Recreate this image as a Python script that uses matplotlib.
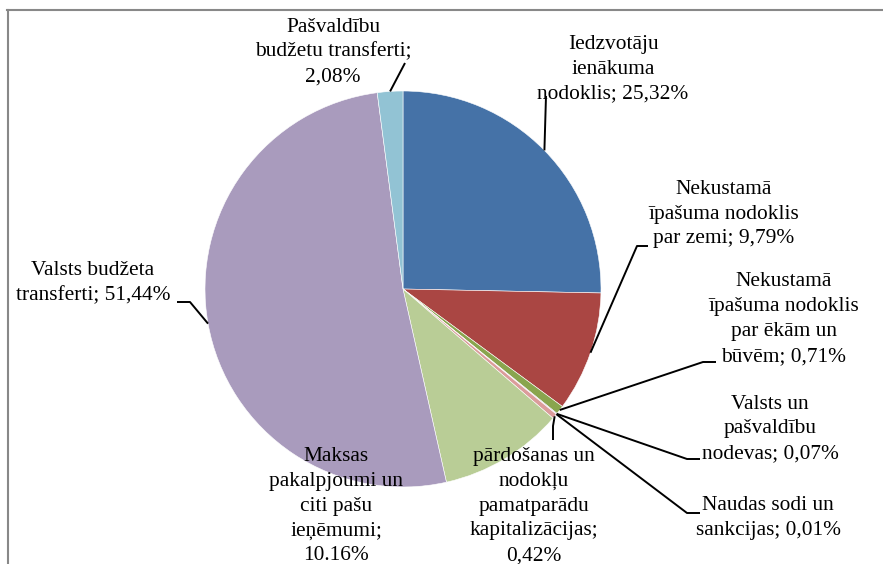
import matplotlib
matplotlib.use("Agg")
import matplotlib.pyplot as plt
import numpy as np
from matplotlib.lines import Line2D

# ---- data ----
categories = [
    "Iedzvotāju\nienākuma\nnodoklis",
    "Nekustamā\nīpašuma nodoklis\npar zemi",
    "Nekustamā\nīpašuma nodoklis\npar ēkām un\nbūvēm",
    "Valsts un\npašvaldību\nnodevas",
    "Naudas sodi un\nsankcijas",
    "pārdošanas un\nnodokļu\npamatparādu\nkapitalizācijas;\n",
    "Maksas\npakalpjoumi un\nciti pašu\nieņēmumi;\n",
    "Valsts budžeta\ntransferti",
    "Pašvaldību\nbudžetu transferti;\n",
]
values = [25.32, 9.79, 0.71, 0.07, 0.01, 0.42, 10.16, 51.44, 2.08]
decimal_sep = [",", ",", ",", ",", ",", ",", ".", ",", ","]
joiner = ["; ", "; ", "; ", "; ", "; ", "", "", "; ", ""]

colors = ["#4572A7", "#AA4643", "#89A54E", "#80699B", "#3D96AE",
          "#DB9C9B", "#B9CD96", "#A99BBD", "#92C3D4"]

# ---- layout (pixel coordinates, y from top) ----
W, H = 883, 564
center_px = (403, 289)
radius_px = 198
label_pos = [(613, 69), (724, 214), (784, 319), (770, 429), (768, 518),
             (534, 506), (336, 506), (93, 283), (333, 52)]
leaders = [
    [(546, 96)],
    [(637, 246), (648, 246)],
    [(703, 362), (716, 362)],
    [(687, 459), (700, 459)],
    [(687, 513), (700, 513)],
    [(553, 426), (553, 440)],
    None,
    [(190, 302), (177, 302)],
    [(405, 63)],
]

fig = plt.figure(figsize=(W / 100, H / 100), dpi=100)
ax = fig.add_axes([0, 0, 1, 1])

cx, cy = center_px[0], H - center_px[1]
wedges, _ = ax.pie(values, colors=colors, startangle=90, counterclock=False,
                   center=(cx, cy), radius=radius_px, frame=True,
                   wedgeprops=dict(edgecolor="white", linewidth=0.4))
ax.set_xlim(0, W)
ax.set_ylim(0, H)
ax.set_aspect("equal")
ax.axis("off")

font = dict(family=["Liberation Serif", "DejaVu Serif"], fontsize=15.4,
            color="black")

for i, (w, cat, v) in enumerate(zip(wedges, categories, values)):
    pct = f"{v:.2f}".replace(".", decimal_sep[i]) + "%"
    text = cat + joiner[i] + pct
    lx, ly = label_pos[i]
    ax.text(lx, H - ly, text, ha="center", va="center", linespacing=1.42,
            **font)
    if leaders[i] is not None:
        ang = np.deg2rad((w.theta1 + w.theta2) / 2)
        ax_x = cx + radius_px * np.cos(ang)
        ax_y = cy + radius_px * np.sin(ang)
        xs = [ax_x] + [p[0] for p in leaders[i]]
        ys = [ax_y] + [H - p[1] for p in leaders[i]]
        ax.plot(xs, ys, color="black", linewidth=1.4, solid_capstyle="butt")

# chart frame (grey border)
fig.add_artist(Line2D([8 / W, 8 / W], [0, 1 - 10 / H], transform=fig.transFigure,
                      color="#888888", linewidth=1.5))
fig.add_artist(Line2D([7 / W, 1], [1 - 10 / H, 1 - 10 / H], transform=fig.transFigure,
                      color="#888888", linewidth=1.5))

fig.savefig("out.png", dpi=100)
